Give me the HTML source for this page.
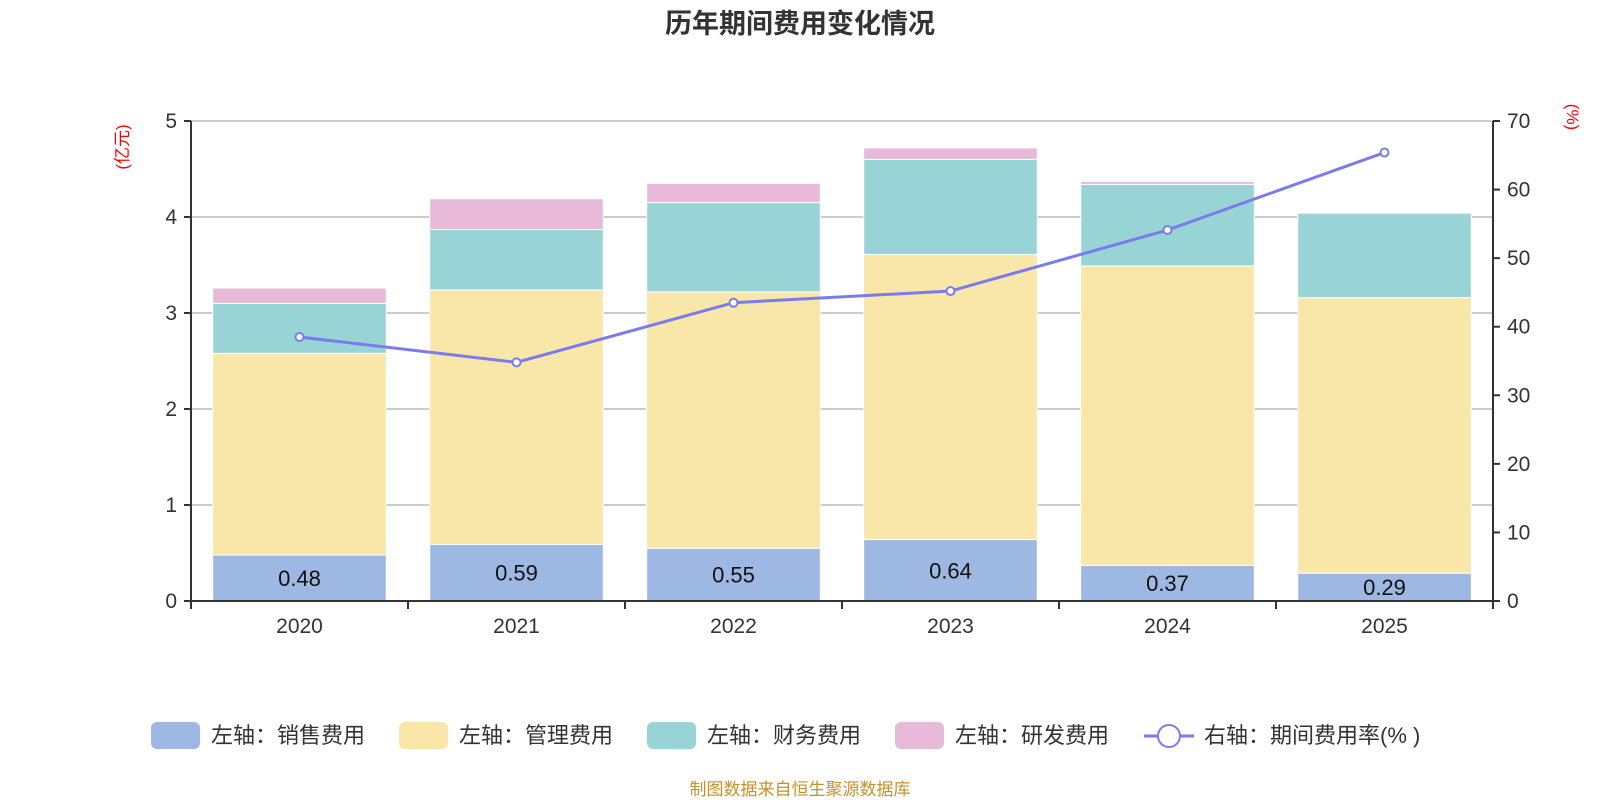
<!DOCTYPE html>
<html><head><meta charset="utf-8"><style>
body{margin:0;background:#fff;}
svg{display:block;font-family:"Liberation Sans","Noto Sans CJK SC",sans-serif;}
</style></head><body>
<svg id="c" width="1600" height="800">
<text x="800" y="33" text-anchor="middle" font-size="27" font-weight="bold" fill="#333">历年期间费用变化情况</text>
<text transform="translate(128,147) rotate(-90)" text-anchor="middle" font-size="17" fill="#f00">(亿元)</text>
<text transform="translate(1567,117) rotate(90)" text-anchor="middle" font-size="17" fill="#f00">(%)</text>
<g id="grid"></g><g id="bars"></g><g id="axes"></g><g id="line"></g>
<g id="legend"></g>
<text x="800" y="795" text-anchor="middle" font-size="17" fill="#c8902a">制图数据来自恒生聚源数据库</text>
</svg>
<script>
const years=["2020","2021","2022","2023","2024","2025"];
const sales=[0.48,0.59,0.55,0.64,0.37,0.29];
const mgmt=[2.10,2.65,2.67,2.97,3.12,2.87];
const fin=[0.52,0.63,0.93,0.99,0.85,0.88];
const rd=[0.16,0.32,0.20,0.12,0.03,0];
const rate=[38.5,34.8,43.5,45.2,54.1,65.4];
const leftTicks=[0,1,2,3,4,5];
const rightTicks=[0,10,20,30,40,50,60,70];
const X0=191,X1=1493,Y0=601,Y1=121;
const cw=(X1-X0)/years.length;
const xc=i=>X0+cw*(i+0.5);
const yL=v=>Y0-(v/5)*(Y0-Y1);
const yR=v=>Y0-(v/70)*(Y0-Y1);
const NS="http://www.w3.org/2000/svg";
function mk(p,t,a){const e=document.createElementNS(NS,t);for(const k in a)e.setAttribute(k,a[k]);document.getElementById(p).appendChild(e);return e;}
leftTicks.forEach(v=>{
 if(v>0){const g=mk("grid","line",{x1:X0,x2:X1,y1:yL(v),y2:yL(v),stroke:"#ccc","stroke-width":2});
 
 }
 const t=mk("axes","text",{x:X0-14,y:yL(v)+7,"text-anchor":"end","font-size":21,fill:"#333"});t.textContent=v;
 
 
 mk("axes","line",{x1:X0-7,x2:X0,y1:yL(v),y2:yL(v),stroke:"#333","stroke-width":2});
});
rightTicks.forEach(v=>{
 const t=mk("axes","text",{x:X1+14,y:yR(v)+7,"font-size":21,fill:"#333"});t.textContent=v;
 
 
 mk("axes","line",{x1:X1,x2:X1+7,y1:yR(v),y2:yR(v),stroke:"#333","stroke-width":2});
});
const ax=[["left-axis",X0,Y1,X0,Y0],["right-axis",X1,Y1,X1,Y0],["x-axis",X0,Y0,X1,Y0]];
ax.forEach(a=>{const l=mk("axes","line",{x1:a[1],y1:a[2],x2:a[3],y2:a[4],stroke:"#333","stroke-width":2});
 
 });
for(let i=0;i<=years.length;i++)mk("axes","line",{x1:X0+cw*i,x2:X0+cw*i,y1:Y0,y2:Y0+8,stroke:"#333","stroke-width":2});
const series=[[sales,"#9db8e2","sales"],[mgmt,"#f8e7a8","mgmt"],[fin,"#98d4d5","fin"],[rd,"#e8b9d8","rd"]];
const bw=cw*0.8;
years.forEach((y,i)=>{
 let base=0;
 series.forEach(s=>{const v=s[0][i];if(v>0){
  const r=mk("bars","rect",{x:xc(i)-bw/2,y:yL(base+v),width:bw,height:yL(base)-yL(base+v),fill:s[1],stroke:"#fff","stroke-width":1});
  
  }
  base+=v;});
 const t=mk("bars","text",{x:xc(i),y:yL(sales[i]/2)+8,"text-anchor":"middle","font-size":22,fill:"#111"});t.textContent=sales[i].toFixed(2);
 
 
 const xl=mk("axes","text",{x:xc(i),y:633,"text-anchor":"middle","font-size":21,fill:"#333"});xl.textContent=y;
 
 
});
const pl=mk("line","polyline",{points:rate.map((v,i)=>xc(i)+","+yR(v)).join(" "),fill:"none",stroke:"#7b7bf0","stroke-width":3});


rate.forEach((v,i)=>{const c=mk("line","circle",{cx:xc(i),cy:yR(v),r:4,fill:"#fff",stroke:"#7b7bf0","stroke-width":2});
 
 });
const leg=[["左轴：销售费用","#9db8e2",151],["左轴：管理费用","#f8e7a8",399],["左轴：财务费用","#98d4d5",647],["左轴：研发费用","#e8b9d8",895]];
leg.forEach(l=>{const g=mk("legend","g",{});
 
 
 const r=document.createElementNS(NS,"rect");r.setAttribute("x",l[2]);r.setAttribute("y",722);r.setAttribute("width",49);r.setAttribute("height",27);r.setAttribute("rx",6);r.setAttribute("fill",l[1]);g.appendChild(r);
 const t=document.createElementNS(NS,"text");t.setAttribute("x",l[2]+60);t.setAttribute("y",743);t.setAttribute("font-size",22);t.setAttribute("fill","#333");t.textContent=l[0];g.appendChild(t);});
const g=mk("legend","g",{});


g.innerHTML='<line x1="1144" x2="1194" y1="736" y2="736" stroke="#7b7bf0" stroke-width="3"/><circle cx="1169" cy="736" r="11" fill="#fff" stroke="#7b7bf0" stroke-width="2"/><text x="1204" y="743" font-size="22" fill="#333">右轴：期间费用率(% )</text>';
</script>
</body></html>
